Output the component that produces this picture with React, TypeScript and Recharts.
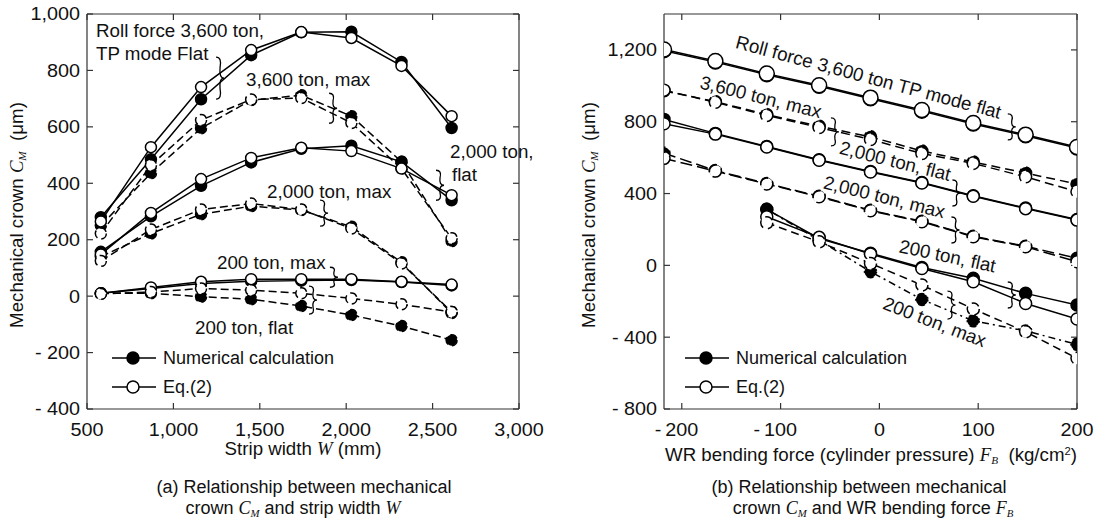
import React from 'react';
import { LineChart, Line, XAxis, YAxis, ReferenceDot } from 'recharts';

// ---------- (a) Mechanical crown vs strip width ----------
const stripWidth = [580, 870, 1160, 1450, 1740, 2030, 2320, 2610];
const a3600FlatNum = [280, 485, 698, 854, 935, 937, 830, 596];
const a3600FlatEq = [265, 528, 741, 872, 936, 915, 816, 638];
const a3600MaxNum = [250, 436, 595, 695, 712, 638, 476, 195];
const a3600MaxEq = [222, 464, 624, 697, 702, 614, 452, 205];
const a2000FlatNum = [157, 283, 391, 474, 522, 533, 476, 340];
const a2000FlatEq = [148, 295, 415, 490, 526, 514, 452, 358];
const a2000MaxNum = [140, 222, 290, 319, 305, 246, 120, -60];
const a2000MaxEq = [125, 236, 307, 328, 307, 240, 116, -56];
const a200MaxNum = [10, 27, 45, 53, 55, 57, 50, 38];
const a200MaxEq = [10, 31, 51, 60, 60, 60, 51, 41];
const a200FlatNum = [10, 10, -2, -11, -35, -67, -106, -156];
const a200FlatEq = [8, 15, 27, 21, 10, -8, -29, -56];
const leftXTicks = [500, 1000, 1500, 2000, 2500, 3000];
const leftYTicks = [-400, -200, 0, 200, 400, 600, 800, 1000];

// ---------- (b) Mechanical crown vs WR bending force ----------
const bendForce = [-218, -166, -114, -61, -9, 43, 95, 148, 200];
const b3600FlatNum = [1196, 1132, 1062, 997, 928, 859, 787, 722, 653];
const b3600FlatEq = [1202, 1138, 1068, 1003, 934, 865, 793, 728, 659];
const b3600MaxNum = [972, 912, 840, 775, 716, 637, 576, 514, 453];
const b3600MaxEq = [976, 908, 835, 768, 701, 623, 568, 493, 410];
const b2000FlatNum = [813, 735, 662, 588, 523, 462, 388, 319, 255];
const b2000FlatEq = [789, 731, 659, 585, 520, 459, 385, 316, 252];
const b2000MaxNum = [625, 528, 456, 385, 307, 246, 162, 107, 39];
const b2000MaxEq = [596, 525, 453, 382, 304, 243, 159, 104, 20];
const b200FlatNum = [null, null, 312, 150, 68, -12, -72, -156, -221];
const b200FlatEq = [null, null, 271, 156, 63, -17, -91, -212, -299];
const b200MaxNum = [null, null, 312, 140, -35, -190, -309, -365, -440];
const b200MaxEq = [null, null, 237, 131, 11, -110, -243, -370, -518];
const rightXTicks = [-200, -100, 0, 100, 200];
const rightYTicks = [-800, -400, 0, 400, 800, 1200];

const FONT = '"Liberation Sans", Arial, Helvetica, sans-serif';
const SERIF = '"Liberation Serif", "Times New Roman", serif';
const INK = '#111';
const TICK_FS = 18;
const STRETCH = 1.1;

function digits(v: number): string {
  return Math.abs(v).toString().replace(/\B(?=(\d{3})+(?!\d))/g, ',');
}
function fmt(v: number): string {
  return v < 0 ? `- ${digits(v)}` : digits(v);
}
function textWidth(s: string, fs: number) {
  let w = 0;
  for (const ch of s) w += ch === ',' ? 0.278 : 0.556;
  return w * fs * STRETCH;
}

// bottom axis tick: digits centred on the tick, minus sign hanging to the left
function BottomTick(props: any) {
  const { x, y, payload } = props;
  const v = payload.value as number;
  const d = digits(v);
  const w = textWidth(d, TICK_FS);
  return (
    <g>
      <text transform={`translate(${x} ${y}) scale(${STRETCH} 1)`} dy="0.71em" textAnchor="middle"
        fontSize={TICK_FS} fontFamily={FONT} fill={INK}>{d}</text>
      {v < 0 && (
        <text transform={`translate(${x - w / 2 - 4} ${y}) scale(${STRETCH} 1)`} dy="0.71em" textAnchor="end"
          fontSize={TICK_FS} fontFamily={FONT} fill={INK}>-</text>
      )}
    </g>
  );
}
function LeftTick(props: any) {
  const { x, y, payload } = props;
  return (
    <text transform={`translate(${x} ${y}) scale(${STRETCH} 1)`} dy="0.355em" textAnchor="end"
      fontSize={TICK_FS} fontFamily={FONT} fill={INK}>{fmt(payload.value)}</text>
  );
}

type Spec = { key: string; values: (number | null)[]; filled: boolean; dash?: string; r?: number };

const leftSpecs: Spec[] = [
  { key: 'f3600n', values: a3600FlatNum, filled: true },
  { key: 'm3600n', values: a3600MaxNum, filled: true, dash: '8 4' },
  { key: 'f2000n', values: a2000FlatNum, filled: true },
  { key: 'm2000n', values: a2000MaxNum, filled: true, dash: '8 4' },
  { key: 'm200n', values: a200MaxNum, filled: true },
  { key: 'f200n', values: a200FlatNum, filled: true, dash: '8 4' },
  { key: 'f3600e', values: a3600FlatEq, filled: false },
  { key: 'm3600e', values: a3600MaxEq, filled: false, dash: '8 4' },
  { key: 'f2000e', values: a2000FlatEq, filled: false },
  { key: 'm2000e', values: a2000MaxEq, filled: false, dash: '8 4' },
  { key: 'm200e', values: a200MaxEq, filled: false },
  { key: 'f200e', values: a200FlatEq, filled: false, dash: '8 4' },
];

const rightSpecs: Spec[] = [
  { key: 'f3600n', values: b3600FlatNum, filled: true, r: 7 },
  { key: 'm3600n', values: b3600MaxNum, filled: true, dash: '9 5' },
  { key: 'f2000n', values: b2000FlatNum, filled: true },
  { key: 'm2000n', values: b2000MaxNum, filled: true, dash: '12 5' },
  { key: 'f200n', values: b200FlatNum, filled: true },
  { key: 'm200n', values: b200MaxNum, filled: true, dash: '2 4 7 4' },
  { key: 'f3600e', values: b3600FlatEq, filled: false, r: 7.5 },
  { key: 'm3600e', values: b3600MaxEq, filled: false, dash: '9 5' },
  { key: 'f2000e', values: b2000FlatEq, filled: false },
  { key: 'm2000e', values: b2000MaxEq, filled: false, dash: '12 5' },
  { key: 'f200e', values: b200FlatEq, filled: false },
  { key: 'm200e', values: b200MaxEq, filled: false, dash: '8 5' },
];

const leftRows = stripWidth.map((w, i) => {
  const row: Record<string, number | null> = { x: w };
  leftSpecs.forEach((s) => (row[s.key] = s.values[i]));
  return row;
});
const rightRows = bendForce.map((f, i) => {
  const row: Record<string, number | null> = { x: f };
  rightSpecs.forEach((s) => (row[s.key] = s.values[i]));
  return row;
});

// annotations (data coordinates)
const leftNotes = [
  { x: 552, y: 943, text: 'Roll force 3,600 ton,' },
  { x: 552, y: 861, text: 'TP mode Flat' },
  { x: 1420, y: 769, text: '3,600 ton, max' },
  { x: 2601, y: 514, text: '2,000 ton,' },
  { x: 2612, y: 432, text: 'flat' },
  { x: 1542, y: 372, text: '2,000 ton, max' },
  { x: 1252, y: 121, text: '200 ton, max' },
  { x: 1125, y: -110, text: '200 ton, flat' },
];
const leftBraces = [
  { x: 1270, y: 773, h: 42 },
  { x: 1924, y: 666, h: 30 },
  { x: 2543, y: 393, h: 30 },
  { x: 1872, y: 294, h: 26 },
  { x: 1929, y: 67, h: 20 },
  { x: 1808, y: -14, h: 28 },
];
const rightNotes = [
  { x: -11, y: 1049, text: 'Roll force 3,600 ton TP mode flat', rot: 15 },
  { x: -120, y: 938, text: '3,600 ton, max', rot: 14 },
  { x: 16, y: 581, text: '2,000 ton, flat', rot: 14 },
  { x: 5, y: 381, text: '2,000 ton, max', rot: 14 },
  { x: 69, y: 52, text: '200 ton, flat', rot: 12 },
  { x: 56, y: -315, text: '200 ton, max', rot: 21 },
];
const rightBraces = [
  { x: 134, y: 771, h: 26 },
  { x: -45, y: 743, h: 28 },
  { x: 78, y: 403, h: 26 },
  { x: 77, y: 197, h: 26 },
  { x: 134, y: -165, h: 26 },
  { x: 73, y: -221, h: 28 },
];

const NOTE_FS = 18.8;

function bracePath(cx: number, cy: number, h: number) {
  const t = cy - h / 2;
  const b = cy + h / 2;
  return `M ${cx - 4} ${t} Q ${cx + 2} ${t} ${cx} ${cy - h / 4} Q ${cx - 1} ${cy} ${cx + 4} ${cy} Q ${cx - 1} ${cy} ${cx} ${cy + h / 4} Q ${cx + 2} ${b} ${cx - 4} ${b}`;
}

function renderLines(specs: Spec[], baseR: number) {
  return specs.map((s) => (
    <Line
      key={s.key}
      dataKey={s.key}
      type="linear"
      stroke="#000"
      strokeWidth={1.5}
      strokeDasharray={s.dash}
      dot={{ r: s.r ?? baseR, fill: s.filled ? '#000' : '#fff', stroke: '#000', strokeWidth: 1.5 }}
      activeDot={false}
      isAnimationActive={false}
      connectNulls={false}
    />
  ));
}

const axisStroke = { stroke: '#333', strokeWidth: 1.2 };

function LeftChart() {
  return (
    <LineChart width={550} height={524} data={leftRows} margin={{ top: 13, right: 30, bottom: 85, left: 27 }}>
      <XAxis dataKey="x" type="number" domain={[500, 3000]} ticks={leftXTicks} interval={0}
        tickSize={-6} tickMargin={20} height={30} axisLine={axisStroke} tickLine={axisStroke} tick={<BottomTick />} allowDataOverflow />
      <XAxis xAxisId="top" dataKey="x" orientation="top" type="number" domain={[500, 3000]} ticks={leftXTicks} interval={0}
        tickSize={-6} height={1} axisLine={axisStroke} tickLine={axisStroke} tickFormatter={() => ''} allowDataOverflow />
      <YAxis type="number" domain={[-400, 1000]} ticks={leftYTicks} interval={0}
        tickSize={-6} tickMargin={13} width={60} axisLine={axisStroke} tickLine={axisStroke} tick={<LeftTick />} allowDataOverflow />
      <YAxis yAxisId="right" orientation="right" type="number" domain={[-400, 1000]} ticks={leftYTicks} interval={0}
        tickSize={-6} width={1} axisLine={axisStroke} tickLine={axisStroke} tickFormatter={() => ''} allowDataOverflow />
      {renderLines(leftSpecs, 5.5)}
      {leftBraces.map((b, i) => (
        <ReferenceDot key={'lb' + i} x={b.x} y={b.y} r={1} ifOverflow="visible"
          shape={(p: any) => <path d={bracePath(p.cx, p.cy, b.h)} fill="none" stroke="#000" strokeWidth={1.3} />} />
      ))}
      {leftNotes.map((n, i) => (
        <ReferenceDot key={'ln' + i} x={n.x} y={n.y} r={1} ifOverflow="visible"
          shape={(p: any) => (
            <text x={p.cx} y={p.cy} dominantBaseline="central" textAnchor="start" fontSize={NOTE_FS} fontFamily={FONT} fill={INK}>{n.text}</text>
          )} />
      ))}
    </LineChart>
  );
}

function RightChart() {
  return (
    <LineChart width={550} height={524} data={rightRows} margin={{ top: 13, right: 22, bottom: 85, left: 54 }}>
      <XAxis dataKey="x" type="number" domain={[-218, 200]} ticks={rightXTicks} interval={0}
        tickSize={-6} tickMargin={20} height={30} axisLine={axisStroke} tickLine={axisStroke} tick={<BottomTick />} allowDataOverflow />
      <XAxis xAxisId="top" dataKey="x" orientation="top" type="number" domain={[-218, 200]} ticks={rightXTicks} interval={0}
        tickSize={-6} height={1} axisLine={axisStroke} tickLine={axisStroke} tickFormatter={() => ''} allowDataOverflow />
      <YAxis type="number" domain={[-800, 1400]} ticks={rightYTicks} interval={0}
        tickSize={-6} tickMargin={13} width={60} axisLine={axisStroke} tickLine={axisStroke} tick={<LeftTick />} allowDataOverflow />
      <YAxis yAxisId="right" orientation="right" type="number" domain={[-800, 1400]} ticks={rightYTicks} interval={0}
        tickSize={-6} width={1} axisLine={axisStroke} tickLine={axisStroke} tickFormatter={() => ''} allowDataOverflow />
      {renderLines(rightSpecs, 6)}
      {rightBraces.map((b, i) => (
        <ReferenceDot key={'rb' + i} x={b.x} y={b.y} r={1} ifOverflow="visible"
          shape={(p: any) => <path d={bracePath(p.cx, p.cy, b.h)} fill="none" stroke="#000" strokeWidth={1.3} />} />
      ))}
      {rightNotes.map((n, i) => (
        <ReferenceDot key={'rn' + i} x={n.x} y={n.y} r={1} ifOverflow="visible"
          shape={(p: any) => (
            <text x={p.cx} y={p.cy} dominantBaseline="central" textAnchor="middle" fontSize={NOTE_FS} fontFamily={FONT} fill={INK}
              transform={`rotate(${n.rot} ${p.cx} ${p.cy})`}>{n.text}</text>
          )} />
      ))}
    </LineChart>
  );
}

function LegendBox({ left, top }: { left: number; top: number }) {
  const row = (filled: boolean, label: string, y: number) => (
    <div style={{ position: 'absolute', left: 0, top: y, height: 22, display: 'flex', alignItems: 'center', whiteSpace: 'nowrap' }}>
      <svg width={46} height={22} style={{ display: 'block' }}>
        <line x1={1} y1={11} x2={45} y2={11} stroke="#000" strokeWidth={1.5} />
        <circle cx={22} cy={11} r={6} fill={filled ? '#000' : '#fff'} stroke="#000" strokeWidth={1.5} />
      </svg>
      <span style={{ marginLeft: 6, fontSize: 18, fontFamily: FONT, color: INK }}>{label}</span>
    </div>
  );
  return (
    <div style={{ position: 'absolute', left, top }}>
      {row(true, 'Numerical calculation', 0)}
      {row(false, 'Eq.(2)', 29)}
    </div>
  );
}

const CM = (
  <>
    <span style={{ fontFamily: SERIF, fontStyle: 'italic' }}>C</span>
    <sub style={{ fontFamily: SERIF, fontStyle: 'italic', fontSize: '0.6em', verticalAlign: '-0.25em' }}>M</sub>
  </>
);
const FB = (
  <>
    <span style={{ fontFamily: SERIF, fontStyle: 'italic' }}>F</span>
    <sub style={{ fontFamily: SERIF, fontStyle: 'italic', fontSize: '0.6em', verticalAlign: '-0.25em' }}>B</sub>
  </>
);

const centered = (left: number, top: number, extra: React.CSSProperties = {}): React.CSSProperties => ({
  position: 'absolute', left, top, transform: 'translate(-50%, -50%)', whiteSpace: 'nowrap',
  fontFamily: FONT, fontSize: 18.7, color: INK, lineHeight: 1, ...extra,
});

export default function App() {
  return (
    <div style={{ position: 'absolute', left: 0, top: 0, width: 1100, height: 524, background: '#fff', overflow: 'hidden' }}>
      <div style={{ position: 'absolute', left: 0, top: 0 }}><LeftChart /></div>
      <div style={{ position: 'absolute', left: 550, top: 0 }}><RightChart /></div>

      <LegendBox left={111} top={347} />
      <LegendBox left={684} top={347} />

      <div style={centered(18, 215, { transform: 'translate(-50%, -50%) rotate(-90deg)' })}>
        Mechanical crown {CM}&nbsp;&nbsp;(μm)
      </div>
      <div style={centered(590, 215, { transform: 'translate(-50%, -50%) rotate(-90deg)' })}>
        Mechanical crown {CM}&nbsp;&nbsp;(μm)
      </div>

      <div style={centered(303, 449)}>
        Strip width <span style={{ fontFamily: SERIF, fontStyle: 'italic' }}>W</span> (mm)
      </div>
      <div style={centered(871, 456)}>
        WR bending force (cylinder pressure) {FB}&nbsp;&nbsp;(kg/cm<sup style={{ fontSize: '0.6em', verticalAlign: '0.6em' }}>2</sup>)
      </div>

      <div style={centered(304, 487, { fontSize: 18 })}>(a) Relationship between mechanical</div>
      <div style={centered(293, 509, { fontSize: 18 })}>
        crown {CM} and strip width <span style={{ fontFamily: SERIF, fontStyle: 'italic' }}>W</span>
      </div>
      <div style={centered(859, 487, { fontSize: 18 })}>(b) Relationship between mechanical</div>
      <div style={centered(873, 509, { fontSize: 18 })}>crown {CM} and WR bending force {FB}</div>
    </div>
  );
}
